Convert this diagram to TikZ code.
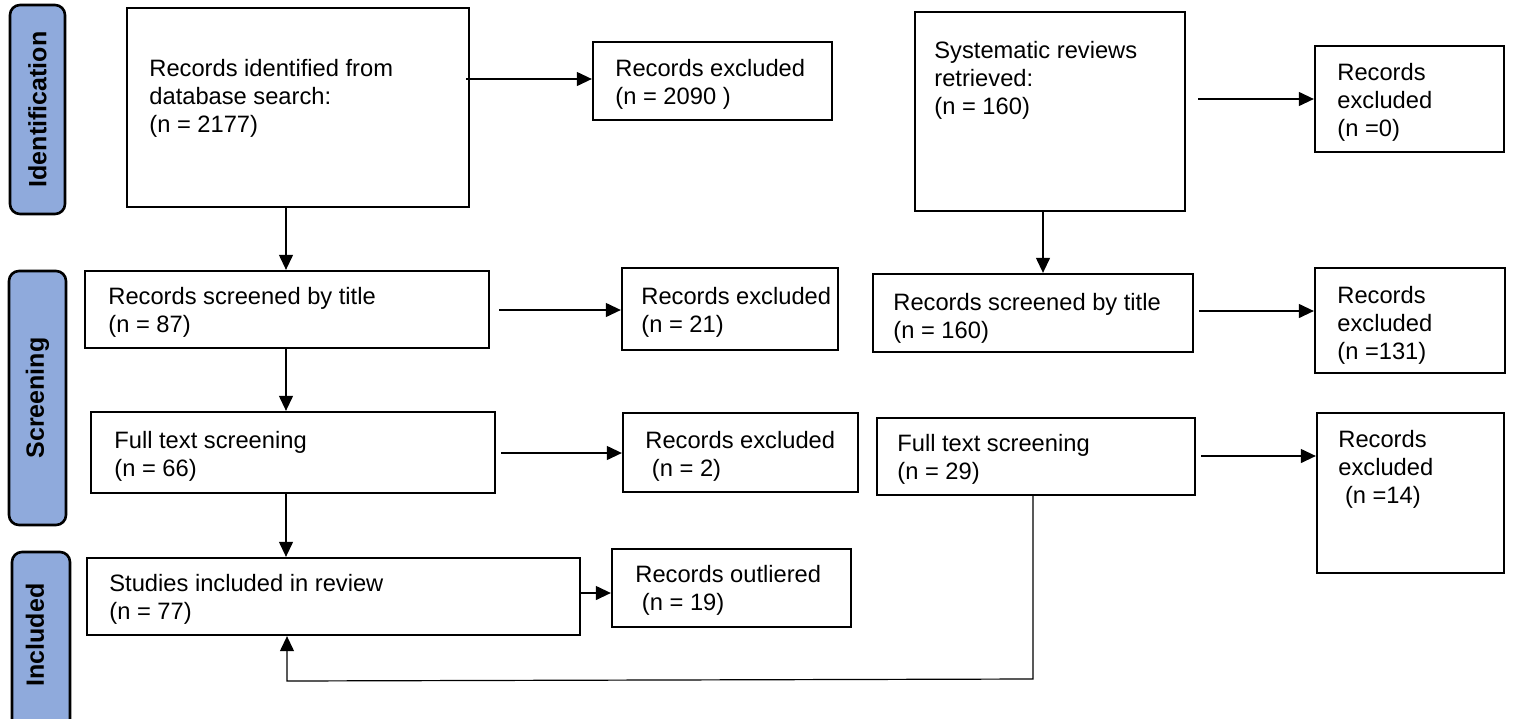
\documentclass[tikz,border=0pt]{standalone}
\usepackage{fontspec}
\setmainfont{Liberation Sans}
\usetikzlibrary{fit,arrows.meta}
\definecolor{labfill}{RGB}{143,170,220}
\newcommand{\mlines}[1]{\begin{tabular}[t]{@{}l@{}}#1\end{tabular}}
\begin{document}
\begin{tikzpicture}[x=0.5pt,y=-0.5pt,
  box/.style={draw=black, line width=1.15pt, inner sep=0pt, fill=white},
  lab/.style={draw=black, line width=1.3pt, inner sep=0pt, fill=labfill, rounded corners=5pt},
  txt/.style={anchor=base west, inner sep=0pt, font=\fontsize{11.85pt}{14pt}\selectfont},
  labtxt/.style={rotate=90, inner sep=0pt, font=\fontsize{12.5pt}{15pt}\selectfont\bfseries},
  arr/.style={line width=0.6pt, -{Triangle[length=7.5pt,width=7pt]}}
]
\useasboundingbox (0,0) rectangle (1515,718);
\clip (0,0) rectangle (1515,718);

% stage labels
\node[lab, fit={(10,5) (65,214)}] (LId) {};
\node[labtxt] (LIdT) at (LId.center) {Identification};
\node[lab, fit={(9,271) (66,525)}] (LSc) {};
\node[labtxt] (LScT) at (LSc.center) {Screening};
\node[lab, fit={(12,552) (70,745)}] (LIn) {};
\node[labtxt] (LInT) at (35,635) {Included};

% left column
\node[box, fit={(127,8) (469,207)}] (A) {};
\node[txt] (AT) at (149,76) {\mlines{Records identified from\\database search:\\(n = 2177)}};
\node[box, fit={(593,42) (832,120)}] (E1) {};
\node[txt] (E1T) at (615,76) {\mlines{Records excluded\\(n = 2090 )}};

\node[box, fit={(85,271) (489,348)}] (S1) {};
\node[txt] (S1T) at (108,304) {\mlines{Records screened by title\\(n = 87)}};
\node[box, fit={(622,268) (838,350)}] (E2) {};
\node[txt] (E2T) at (641,304) {\mlines{Records excluded\\(n = 21)}};

\node[box, fit={(91,412) (495,493)}] (F1) {};
\node[txt] (F1T) at (114,448) {\mlines{Full text screening\\(n = 66)}};
\node[box, fit={(623,413) (858,492)}] (E3) {};
\node[txt] (E3T) at (645,448) {\mlines{Records excluded\\\ (n = 2)}};

\node[box, fit={(87,558) (580,635)}] (I1) {};
\node[txt] (I1T) at (109,591) {\mlines{Studies included in review\\(n = 77)}};
\node[box, fit={(612,549) (851,627)}] (O1) {};
\node[txt] (O1T) at (635,582) {\mlines{Records outliered\\\ (n = 19)}};

% right column
\node[box, fit={(915,12) (1185,211)}] (Sys) {};
\node[txt] (SysT) at (934,58) {\mlines{Systematic reviews\\retrieved:\\(n = 160)}};
\node[box, fit={(1315,46) (1504,152)}] (E4) {};
\node[txt] (E4T) at (1337,80) {\mlines{Records\\excluded\\(n =0)}};

\node[box, fit={(873,274) (1193,352)}] (S2) {};
\node[txt] (S2T) at (893,310) {\mlines{Records screened by title\\(n = 160)}};
\node[box, fit={(1315,268) (1505,373)}] (E5) {};
\node[txt] (E5T) at (1337,303) {\mlines{Records\\excluded\\(n =131)}};

\node[box, fit={(877,418) (1195,495)}] (F2) {};
\node[txt] (F2T) at (897,451) {\mlines{Full text screening\\(n = 29)}};
\node[box, fit={(1317,413) (1504,573)}] (E6) {};
\node[txt] (E6T) at (1338,447) {\mlines{Records\\excluded\\\ (n =14)}};

% helper coordinates
\coordinate (cx) at (286,0);
\coordinate (rx) at (1043,0);
\coordinate (cornerR) at (1033,679);
\coordinate (cornerL) at (287,681);

% connectors left
\draw[arr] ([xshift=-2pt]A.east |- 0,79) -- (E1.west |- 0,79);
\draw[arr] (A.south -| cx) -- (S1.north -| cx);
\draw[arr] ([xshift=4.5pt]S1.east |- 0,310) -- (E2.west |- 0,310);
\draw[arr] (S1.south -| cx) -- (F1.north -| cx);
\draw[arr] ([xshift=2.5pt]F1.east |- 0,453) -- (E3.west |- 0,453);
\draw[arr] (F1.south -| cx) -- (I1.north -| cx);
\draw[arr] (I1.east |- 0,593) -- (O1.west |- 0,593);

% connectors right
\draw[arr] ([xshift=6pt]Sys.east |- E4.west) -- (E4.west);
\draw[arr] (Sys.south -| rx) -- (S2.north -| rx);
\draw[arr] ([xshift=2.5pt]S2.east |- 0,311) -- (E5.west |- 0,311);
\draw[arr] ([xshift=2.5pt]F2.east |- 0,456) -- (E6.west |- 0,456);
\draw[arr] (F2.south -| cornerR) -- (cornerR) -- (cornerL) -- (I1.south -| cornerL);
\end{tikzpicture}
\end{document}
